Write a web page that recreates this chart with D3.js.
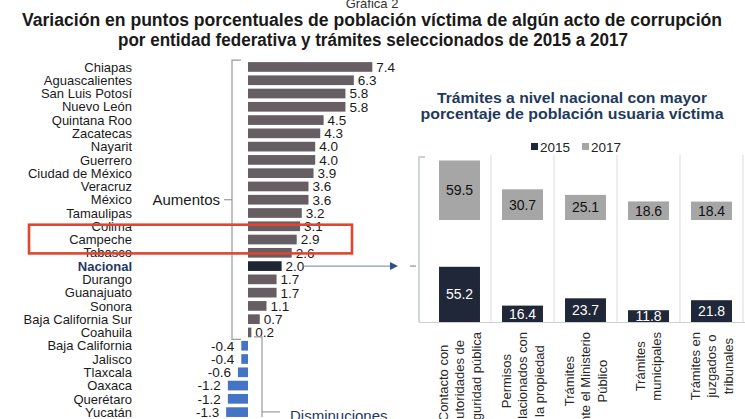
<!DOCTYPE html>
<html><head><meta charset="utf-8">
<script src="https://cdn.jsdelivr.net/npm/d3@7"></script>
<style>
body{margin:0;background:#fff;}
svg{display:block;font-family:'Liberation Sans',Arial,sans-serif;}
</style>
</head><body>
<svg id="c" width="745" height="419"></svg>
<script>
// ---------- DATA ----------
const states = ["Chiapas","Aguascalientes","San Luis Potosí","Nuevo León","Quintana Roo","Zacatecas","Nayarit","Guerrero","Ciudad de México","Veracruz","México","Tamaulipas","Colima","Campeche","Tabasco","Nacional","Durango","Guanajuato","Sonora","Baja California Sur","Coahuila","Baja California","Jalisco","Tlaxcala","Oaxaca","Querétaro","Yucatán"];
const variation = [7.4,6.3,5.8,5.8,4.5,4.3,4.0,4.0,3.9,3.6,3.6,3.2,3.1,2.9,2.6,2.0,1.7,1.7,1.1,0.7,0.2,-0.4,-0.4,-0.6,-1.2,-1.2,-1.3];
const tramites = ["Contacto con autoridades de seguridad pública","Permisos relacionados con la propiedad","Trámites ante el Ministerio Público","Trámites municipales","Trámites en juzgados o tribunales"];
const tramiteLines = [["Contacto con","autoridades de","seguridad pública"],["Permisos","relacionados con","la propiedad"],["Trámites","ante el Ministerio","Público"],["Trámites","municipales"],["Trámites en","juzgados o","tribunales"]];
const v2015 = [55.2,16.4,23.7,11.8,21.8];
const v2017 = [59.5,30.7,25.1,18.6,18.4];
const years = ["2015","2017"];

const fmt = v => d3.format(".1f")(v).replace("\u2212","-");
const svg = d3.select("#c");

// ---------- TITLES ----------
svg.append("text").attr("x",372).attr("y",8).attr("text-anchor","middle")
  .attr("font-size",13).attr("fill","#333").text("Gráfica 2");
svg.append("text").attr("x",372).attr("y",26).attr("text-anchor","middle")
  .attr("font-family","'Liberation Sans Narrow','Arial Narrow','Liberation Sans',Arial")
  .attr("font-weight","bold").attr("font-size",18).attr("fill","#1a1a1a")
  .attr("textLength",700).attr("lengthAdjust","spacingAndGlyphs")
  .text("Variación en puntos porcentuales de población víctima de algún acto de corrupción");
svg.append("text").attr("x",373).attr("y",46).attr("text-anchor","middle")
  .attr("font-family","'Liberation Sans Narrow','Arial Narrow','Liberation Sans',Arial")
  .attr("font-weight","bold").attr("font-size",18).attr("fill","#1a1a1a")
  .attr("textLength",510).attr("lengthAdjust","spacingAndGlyphs")
  .text("por entidad federativa y trámites seleccionados de 2015 a 2017");

// ---------- LEFT CHART ----------
const y = d3.scaleBand().domain(states).range([60.4, 60.4 + states.length*13.27]).paddingInner(0.27).paddingOuter(0.13);
const x = d3.scaleLinear().domain([-2, 8]).range([248 - 2*16.8, 248 + 8*16.8]);
const rowC = s => y(s) + y.bandwidth()/2;

const left = svg.append("g");
left.selectAll("text.lab").data(states).join("text").attr("class","lab")
  .attr("x",132).attr("y",d=>rowC(d)).attr("dy","0.36em").attr("text-anchor","end")
  .attr("font-size",13)
  .attr("fill",d=>d==="Nacional"?"#1f3864":"#1a1a1a")
  .attr("font-weight",d=>d==="Nacional"?"bold":"normal")
  .text(d=>d);

const barColor = (s,v) => s==="Nacional" ? "#1e2535" : (v<0 ? "#4674c4" : "#675e63");
left.selectAll("rect.bar").data(states).join("rect").attr("class","bar")
  .attr("x",(d,i)=>x(Math.min(0,variation[i])))
  .attr("y",d=>y(d)).attr("height",y.bandwidth())
  .attr("width",(d,i)=>Math.abs(x(variation[i])-x(0)))
  .attr("fill",(d,i)=>barColor(d,variation[i]));

left.selectAll("text.val").data(states).join("text").attr("class","val")
  .attr("x",(d,i)=>variation[i]>=0 ? x(variation[i])+4 : x(variation[i])-7)
  .attr("y",d=>rowC(d)).attr("dy","0.36em")
  .attr("text-anchor",(d,i)=>variation[i]>=0?"start":"end")
  .attr("font-size",13.5).attr("fill","#1a1a1a")
  .text((d,i)=>fmt(variation[i]));

// Aumentos bracket
const bx = x(0) - 16;
const topA = y("Chiapas") - 2, botA = y("Coahuila") + y.bandwidth() + 2;
left.append("path").attr("d",`M${bx+9},${topA}H${bx}V${botA}H${bx+9}`)
  .attr("fill","none").attr("stroke","#9a9a9a").attr("stroke-width",1.2);
left.append("path").attr("d",`M${bx},${rowC("México")}H${bx-8}`)
  .attr("stroke","#9a9a9a").attr("stroke-width",1.2);
left.append("text").attr("x",bx-12).attr("y",rowC("México")).attr("dy","0.36em")
  .attr("text-anchor","end").attr("font-size",15).attr("fill","#1a1a1a").text("Aumentos");

// Disminuciones bracket
const dx = x(0) + 14;
const topD = y("Baja California") - 4;
left.append("path").attr("d",`M${dx-8},${topD}H${dx}V${topD+80}`)
  .attr("fill","none").attr("stroke","#9a9a9a").attr("stroke-width",1.2);
left.append("path").attr("d",`M${dx},${topD+75}H${dx+18}`)
  .attr("stroke","#9a9a9a").attr("stroke-width",1.2);
left.append("text").attr("x",dx+28).attr("y",topD+84).attr("font-size",15)
  .attr("fill","#1f3864").text("Disminuciones");

// Red highlight box around Campeche
left.append("rect").attr("x",29).attr("y",y("Campeche")-10)
  .attr("width",323).attr("height",y.bandwidth()+19)
  .attr("fill","none").attr("stroke","#e0452f").attr("stroke-width",2.6);

// Arrow from Nacional
const ay = rowC("Nacional");
left.append("line").attr("x1",x(2.0)+22).attr("x2",391).attr("y1",ay).attr("y2",ay)
  .attr("stroke","#8b9ab3").attr("stroke-width",1.3);
left.append("path").attr("d",`M390,${ay-4}L398,${ay}L390,${ay+4}Z`).attr("fill","#2e4f8c");

// ---------- RIGHT CHART ----------
const right = svg.append("g");
right.append("text").attr("x",572).attr("y",103).attr("text-anchor","middle")
  .attr("font-weight","bold").attr("font-size",14.5).attr("fill","#1f3a5c")
  .attr("textLength",270).attr("lengthAdjust","spacingAndGlyphs")
  .text("Trámites a nivel nacional con mayor");
right.append("text").attr("x",572).attr("y",119).attr("text-anchor","middle")
  .attr("font-weight","bold").attr("font-size",14.5).attr("fill","#1f3a5c")
  .attr("textLength",303).attr("lengthAdjust","spacingAndGlyphs")
  .text("porcentaje de población usuaria víctima");

// legend
const legColors = {"2015":"#1f2738","2017":"#a6a6a6"};
const legX = [531, 582];
years.forEach((yr,i)=>{
  right.append("rect").attr("x",legX[i]).attr("y",143).attr("width",7).attr("height",7).attr("fill",legColors[yr]);
  right.append("text").attr("x",legX[i]+9).attr("y",151.5).attr("font-size",13.5).attr("fill","#222").text(yr);
});

const xb = d3.scaleBand().domain(tramites).range([428, 743]).paddingInner(0.35).paddingOuter(0.175);
const yv = d3.scaleLinear().domain([0,100]).range([100,0]);
const base2015 = 222, base2017 = 120;

// grid separators
right.selectAll("line.sep").data(tramites).join("line").attr("class","sep")
  .attr("x1",d=>xb(d)+xb.bandwidth()+xb.step()*xb.paddingInner()/2)
  .attr("x2",d=>xb(d)+xb.bandwidth()+xb.step()*xb.paddingInner()/2)
  .attr("y1",155).attr("y2",base2015+yv(0))
  .attr("stroke","#e2e2e2").attr("stroke-width",1.2);
// baseline
right.append("line").attr("x1",419).attr("x2",745).attr("y1",base2015+yv(0)+0.5).attr("y2",base2015+yv(0)+0.5)
  .attr("stroke","#cfcfcf").attr("stroke-width",1.2);
// bracket
right.append("path").attr("d",`M425,157H419V${base2015+yv(0)}`).attr("fill","none")
  .attr("stroke","#b8c2d0").attr("stroke-width",1.3);
right.append("path").attr("d",`M410,${ay}H416`).attr("stroke","#8b9ab3").attr("stroke-width",1.3);

function drawYear(vals, base, fill, txt){
  const g = right.append("g").attr("transform",`translate(0,${base})`);
  g.selectAll("rect").data(tramites).join("rect")
    .attr("x",d=>xb(d)).attr("width",xb.bandwidth())
    .attr("y",(d,i)=>yv(vals[i])).attr("height",(d,i)=>yv(0)-yv(vals[i]))
    .attr("fill",fill);
  g.selectAll("text").data(tramites).join("text")
    .attr("x",d=>xb(d)+xb.bandwidth()/2)
    .attr("y",(d,i)=>(yv(vals[i])+yv(0))/2).attr("dy","0.36em")
    .attr("text-anchor","middle").attr("font-size",14).attr("fill",txt)
    .text((d,i)=>fmt(vals[i]));
}
drawYear(v2017, base2017, legColors["2017"], "#111");
drawYear(v2015, base2015, legColors["2015"], "#fff");

// rotated category labels
tramites.forEach((t,i)=>{
  const lines = tramiteLines[i];
  const g = right.append("g").attr("transform",`translate(${xb(t)+xb.bandwidth()/2},332) rotate(-90)`);
  const texts = g.selectAll("text").data(lines).join("text")
    .attr("font-size",13).attr("fill","#2a2a2a").attr("text-anchor","middle")
    .attr("y",(d,j)=>(j-(lines.length-1)/2)*16.5).attr("dy","0.36em")
    .text(d=>d);
  let maxLen = 0;
  texts.each(function(){ maxLen = Math.max(maxLen, this.getComputedTextLength()); });
  texts.attr("x",-maxLen/2);
});
</script>
</body></html>
